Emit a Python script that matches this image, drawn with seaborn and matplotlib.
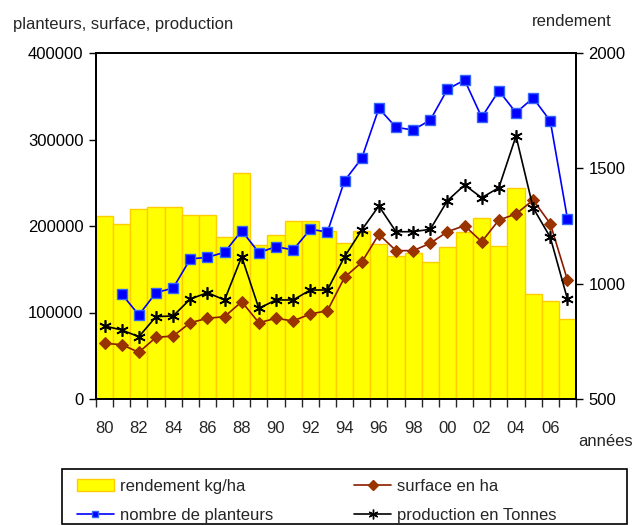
import numpy as np
import pandas as pd
import matplotlib
matplotlib.use("Agg")
import matplotlib.pyplot as plt
from matplotlib.lines import Line2D
from matplotlib.patches import Patch, Rectangle
import seaborn as sns

years = list(range(1980, 2008))
rendement = [1293, 1260, 1324, 1331, 1331, 1298, 1298, 1204, 1481, 1168,
             1211, 1273, 1273, 1228, 1178, 1228, 1172, 1120, 1134, 1095,
             1158, 1223, 1286, 1165, 1413, 954, 924, 847]
planteurs = [np.nan, 121400, 97100, 122900, 128300, 161900, 163800, 169600, 194600, 169200,
             176100, 172300, 196200, 193100, 252400, 278200, 336000, 314100, 311000, 322500,
             358000, 368800, 325700, 356400, 331000, 348000, 321400, 208500]
surface = [64400, 62800, 54000, 71300, 72800, 88200, 93300, 95200, 112500, 88200,
           93300, 90200, 98300, 102100, 140700, 158000, 190400, 171500, 171500, 180000,
           193400, 200400, 181800, 206900, 213900, 230000, 202700, 137600]
production = [84400, 79800, 72000, 95200, 96000, 115600, 122900, 114500, 164500, 104800,
              114500, 114500, 126000, 126000, 164500, 195400, 223100, 193400, 193400, 196200,
              229300, 247400, 232700, 244300, 304000, 221000, 186900, 115600]

df = pd.DataFrame({"annee": years, "rendement": rendement, "planteurs": planteurs,
                   "surface": surface, "production": production})

sns.set_style("white")
plt.rcParams["font.family"] = ["Liberation Sans", "DejaVu Sans"]
FS = 12

fig = plt.figure(figsize=(6.35, 5.25), dpi=100)
ax = fig.add_axes([96/635, 1-399/525, 480/635, 346/525])
ax2 = ax.twinx()

# bars on right axis (ax), lines on left axis (ax2)
sns.barplot(data=df, x="annee", y="rendement", native_scale=True, width=1.0,
            color="#FFFF00", edgecolor="#FFCC00", linewidth=1.0, saturation=1,
            ax=ax)
ax.set_ylim(500, 2000)
ax.set_yticks([500, 1000, 1500, 2000])
ax.yaxis.tick_right()
ax.yaxis.set_label_position("right")

sns.lineplot(data=df, x="annee", y="planteurs", ax=ax2, color="#0000FF", lw=1.2,
             marker="s", markersize=6.5, markerfacecolor="#0000FF",
             markeredgecolor="#3366FF", markeredgewidth=1.0)
sns.lineplot(data=df, x="annee", y="surface", ax=ax2, color="#8B1A00", lw=1.2,
             marker="D", markersize=6, markerfacecolor="#993300",
             markeredgecolor="#993300")
sns.lineplot(data=df, x="annee", y="production", ax=ax2, color="#000000", lw=1.2,
             marker=(6, 2, 0), markersize=9, markeredgecolor="#000000",
             markeredgewidth=1.2)
ax2.set_ylim(0, 400000)
ax2.set_yticks([0, 100000, 200000, 300000, 400000])
ax2.yaxis.tick_left()
ax2.yaxis.set_label_position("left")

for a in (ax, ax2):
    a.set_xlabel("")
    a.set_ylabel("")
    a.set_xlim(years[0] - 0.5, years[-1] + 0.5)
    for s in a.spines.values():
        s.set_color("black")
        s.set_linewidth(1.3)
    a.tick_params(axis="y", labelsize=FS, length=5, width=1, direction="out", colors="black", pad=4)

# x ticks: marks at boundaries, labels at even years
bounds = [y - 0.5 for y in years] + [years[-1] + 0.5]
ax.set_xticks(bounds)
ax.set_xticklabels([])
ax.tick_params(axis="x", which="major", length=6, width=1, direction="out", bottom=True)
even = [y for y in years if y % 2 == 0]
ax.set_xticks(even, minor=True)
ax.set_xticklabels([f"{y % 100:02d}" for y in even], minor=True)
ax.tick_params(axis="x", which="minor", length=0, labelsize=FS, pad=16)
ax2.tick_params(axis="x", which="both", bottom=False, labelbottom=False)

fig.text(13/635, 1-25/525, "planteurs, surface, production", fontsize=FS, ha="left", va="center")
fig.text(612/635, 1-21/525, "rendement", fontsize=FS, ha="right", va="center")
fig.text(633/635, 1-441/525, "années", fontsize=FS, ha="right", va="center")

# legend
handles = [Patch(facecolor="#FFFF00", edgecolor="#FFCC00"),
           Line2D([], [], color="#0000FF", lw=1.2, marker="s", markersize=5,
                  markerfacecolor="#0000FF", markeredgecolor="#3366FF"),
           Line2D([], [], color="#8B1A00", lw=1.2, marker="D", markersize=5,
                  markerfacecolor="#993300", markeredgecolor="#993300"),
           Line2D([], [], color="black", lw=1.2, marker=(6, 2, 0), markersize=7)]
labels = ["rendement kg/ha", "nombre de planteurs", "surface en ha", "production en Tonnes"]
fig.legend(handles, labels, ncol=2, loc="upper left", bbox_to_anchor=(72/635, 1-474/525),
           frameon=False, fontsize=FS, handlelength=2.2, handletextpad=0.35,
           columnspacing=4.9, labelspacing=0.85, borderaxespad=0, borderpad=0.3)
fig.patches.append(Rectangle((62/635, 1/525), (627-62)/635, (524-469)/525,
                             transform=fig.transFigure, fill=False, edgecolor="black", lw=1.2))

fig.savefig("out.png", dpi=100)
